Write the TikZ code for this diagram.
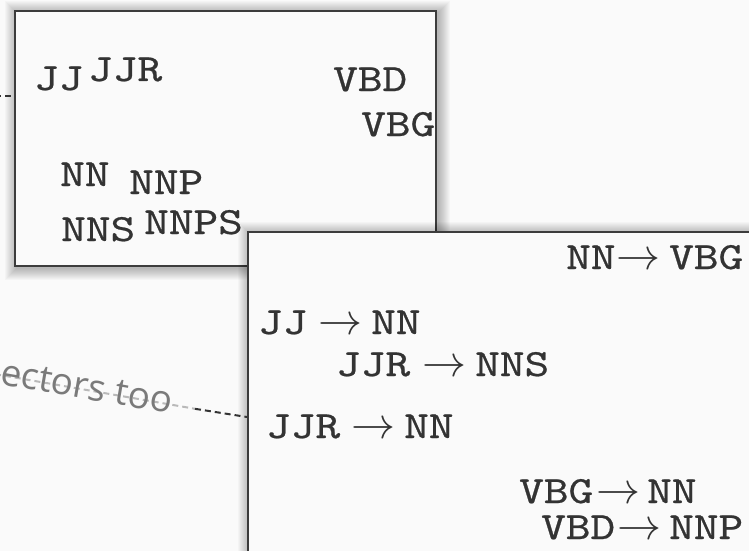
\documentclass[tikz,border=0pt]{standalone}
\usepackage{fontspec}
\newfontfamily\tagfont{lmmono10-regular.otf}[FakeStretch=1.22, FakeBold=0.6]
\newfontfamily\notefont{Open Sans}
\usetikzlibrary{fit}

\definecolor{paper}{RGB}{250,250,250}
\definecolor{ink}{RGB}{51,51,51}
\definecolor{frame}{RGB}{60,60,60}
\definecolor{notegray}{RGB}{122,122,122}
\definecolor{fadedash}{RGB}{185,185,185}

% enlarged math arrow used in the production rules
\newcommand\bigarrow{\scalebox{4.4}{\fontsize{10}{12}\selectfont$\rightarrow$}}
% #1 left tag, #2 arrow offset, #3 right tag offset, #4 right tag
\newcommand\prodrule[4]{\rlap{#1}\hspace*{#2pt}\rlap{\bigarrow}\hspace*{\dimexpr #3pt - #2pt\relax}#4}

\tikzset{
  panel/.style={draw=frame, line width=2pt, fill=paper, inner sep=0pt},
  tag/.style={anchor=base west, inner sep=0pt, text=ink,
    font={\tagfont\fontsize{38.5}{40}\selectfont}},
  darkdash/.style={draw=ink, line width=2pt, dash pattern=on 6pt off 4pt},
  lightdash/.style={draw=fadedash, line width=2pt, dash pattern=on 6pt off 4pt},
  note/.style={anchor=base west, inner sep=0pt, text=notegray,
    font={\notefont\fontsize{37}{40}\selectfont}},
}

% soft drop shadow behind a rectangle given by two corners
\newcommand\softshadow[4]{%
  \foreach \i in {1,...,12}{%
    \fill[black, opacity=0.025] (#1-\i+2,#2-\i+2) rectangle (#3+\i+2,#4+\i+2);}%
}

\begin{document}
\begin{tikzpicture}[x=1pt, y=-1pt]
  \useasboundingbox (0,0) rectangle (749,551);
  \fill[paper] (0,0) rectangle (749,551);
  \clip (0,0) rectangle (749,551);

  % ---- tag set panel ----
  \coordinate (b1nw) at (15,11);
  \coordinate (b1se) at (436,266);
  \softshadow{15}{11}{436}{266}
  \node[panel, fit=(b1nw)(b1se)] (box1) {};

  \node[tag] (jj)   at (34,90)   {JJ};
  \node[tag] (jjr)  at (88,81)   {JJR};
  \node[tag] (vbd)  at (333,91)  {VBD};
  \node[tag] (vbg)  at (361,136) {VBG};
  \node[tag] (nn)   at (60,186)  {NN};
  \node[tag] (nnp)  at (129,194) {NNP};
  \node[tag] (nns)  at (61,241)  {NNS};
  \node[tag] (nnps) at (144,234) {NNPS};

  % connector entering the tag panel
  \coordinate (tstart) at (-5,96);
  \draw[darkdash] (tstart) -- (tstart -| box1.west);

  % ---- rule panel ----
  \coordinate (b2nw) at (248,232);
  \coordinate (b2se) at (790,600);
  \softshadow{248}{232}{790}{600}
  \node[panel, fit=(b2nw)(b2se)] (box2) {};

  \node[tag] (r1) at (566,269) {\prodrule{NN}{50}{103}{VBG}};
  \node[tag] (r2) at (258,334) {\prodrule{JJ}{60}{113}{NN}};
  \node[tag] (r3) at (336,376) {\prodrule{JJR}{86}{139}{NNS}};
  \node[tag] (r4) at (266,438) {\prodrule{JJR}{85}{138}{NN}};
  \node[tag] (r5) at (519,503) {\prodrule{VBG}{77}{128}{NN}};
  \node[tag] (r6) at (541,539) {\prodrule{VBD}{76}{128}{NNP}};

  % connector with its caption, entering the rule panel
  \coordinate (lstart) at (-5,374.1);
  \coordinate (lfade) at (195,408.8);
  \coordinate (lend) at ([yshift=-186pt]box2.north west);
  \draw[lightdash] (lstart) -- (lfade);
  \draw[darkdash] (lfade) -- (lend);
  \node[note, rotate=-9.84] (caption) at (-1,384) {ectors too};
\end{tikzpicture}
\end{document}
